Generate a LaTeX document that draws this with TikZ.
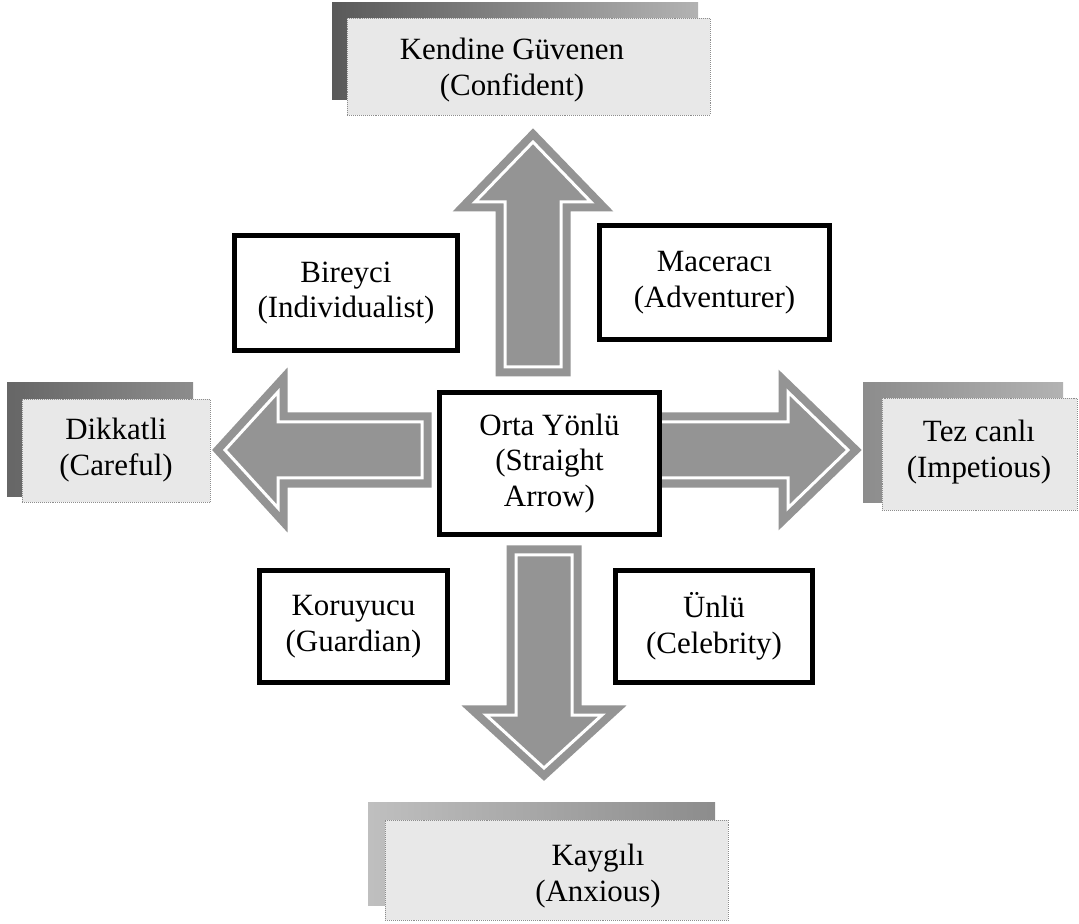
\documentclass[tikz,border=0pt]{standalone}
\usepackage{fontspec}
\setmainfont{Liberation Serif}
\newcommand\shaftHW{28}
\newcommand\headHW{58}
\newcommand\arrowColor{black!42}
\newcommand{\blockArrowPath}[2]{
    (0,-\shaftHW) -- (#1,-\shaftHW) -- (#1,-\headHW)
    -- ({#1 + #2},0)
    -- (#1,\headHW) -- (#1,\shaftHW) -- (0,\shaftHW) -- cycle
}
\tikzset{
    frameBox/.style={draw=black, line width=0.125cm, fill=white, inner sep=0pt,
        align=center, font=\fontsize{22}{25.5}\selectfont},
    frontBox/.style={draw=black!45, densely dotted, fill=black!9, inner sep=0pt},
    labelText/.style={align=center, inner sep=0pt, font=\fontsize{22}{25.5}\selectfont},
    blockArrow/.style={draw=\arrowColor, fill=\arrowColor, double=white,
        line width=0.2cm, double distance=0.075cm}
}

\begin{document}
\begin{tikzpicture}[x=0.025cm, y=-0.025cm]
    \useasboundingbox (0,0) rectangle (1079,924);

    % block arrows out of the centre
    \begin{scope}[shift={(533,367)}, rotate=90]
        \path[blockArrow] \blockArrowPath{165}{60};
    \end{scope}
    \begin{scope}[shift={(422,450)}, rotate=180]
        \path[blockArrow] \blockArrowPath{144}{53};
    \end{scope}
    \begin{scope}[shift={(544,555)}, rotate=-90]
        \path[blockArrow] \blockArrowPath{160}{53};
    \end{scope}
    \begin{scope}[shift={(650,450)}]
        \path[blockArrow] \blockArrowPath{138}{60};
    \end{scope}

    \node[frameBox, minimum width=5.5cm, minimum height=3.55cm] (straight) at (549.5,463.5)
        {Orta Yönlü\\(Straight\\Arrow)};
    \node[frameBox, minimum width=5.575cm, minimum height=2.875cm] (individualist) at (346,293)
        {Bireyci\\(Individualist)};
    \node[frameBox, minimum width=5.75cm, minimum height=2.85cm] (adventurer) at (714.5,282.5)
        {Maceracı\\(Adventurer)};
    \node[frameBox, minimum width=4.7cm, minimum height=2.8cm] (guardian) at (353.5,626.5)
        {Koruyucu\\(Guardian)};
    \node[frameBox, minimum width=4.925cm, minimum height=2.8cm] (celebrity) at (714,626.5)
        {Ünlü\\(Celebrity)};

    % shadowed end boxes
    \shade[left color=black!65, right color=black!30] (332,3) rectangle (698,100);
    \node[frontBox, minimum width=9.075cm, minimum height=2.425cm] (confident) at (528.5,66.5) {};
    \node[labelText] (confidentTxt) at (512,70) {Kendine Güvenen\\(Confident)};

    \shade[left color=black!60, right color=black!45] (7,383) rectangle (193,497);
    \node[frontBox, minimum width=4.7cm, minimum height=2.575cm] (careful) at (116,450.5) {};
    \node[labelText] (carefulTxt) at (116,450) {Dikkatli\\(Careful)};

    \shade[left color=black!45, right color=black!30] (863,383) rectangle (1063,503);
    \node[frontBox, minimum width=4.875cm, minimum height=2.8cm] (impetious) at (979.5,454) {};
    \node[labelText] (impetiousTxt) at (979,452) {Tez canlı\\(Impetious)};

    \shade[left color=black!25, right color=black!45] (368,802) rectangle (715,905);
    \node[frontBox, minimum width=8.575cm, minimum height=2.5cm] (anxious) at (556.5,870) {};
    \node[labelText] (anxiousTxt) at (598,876) {Kaygılı\\(Anxious)};
\end{tikzpicture}
\end{document}
